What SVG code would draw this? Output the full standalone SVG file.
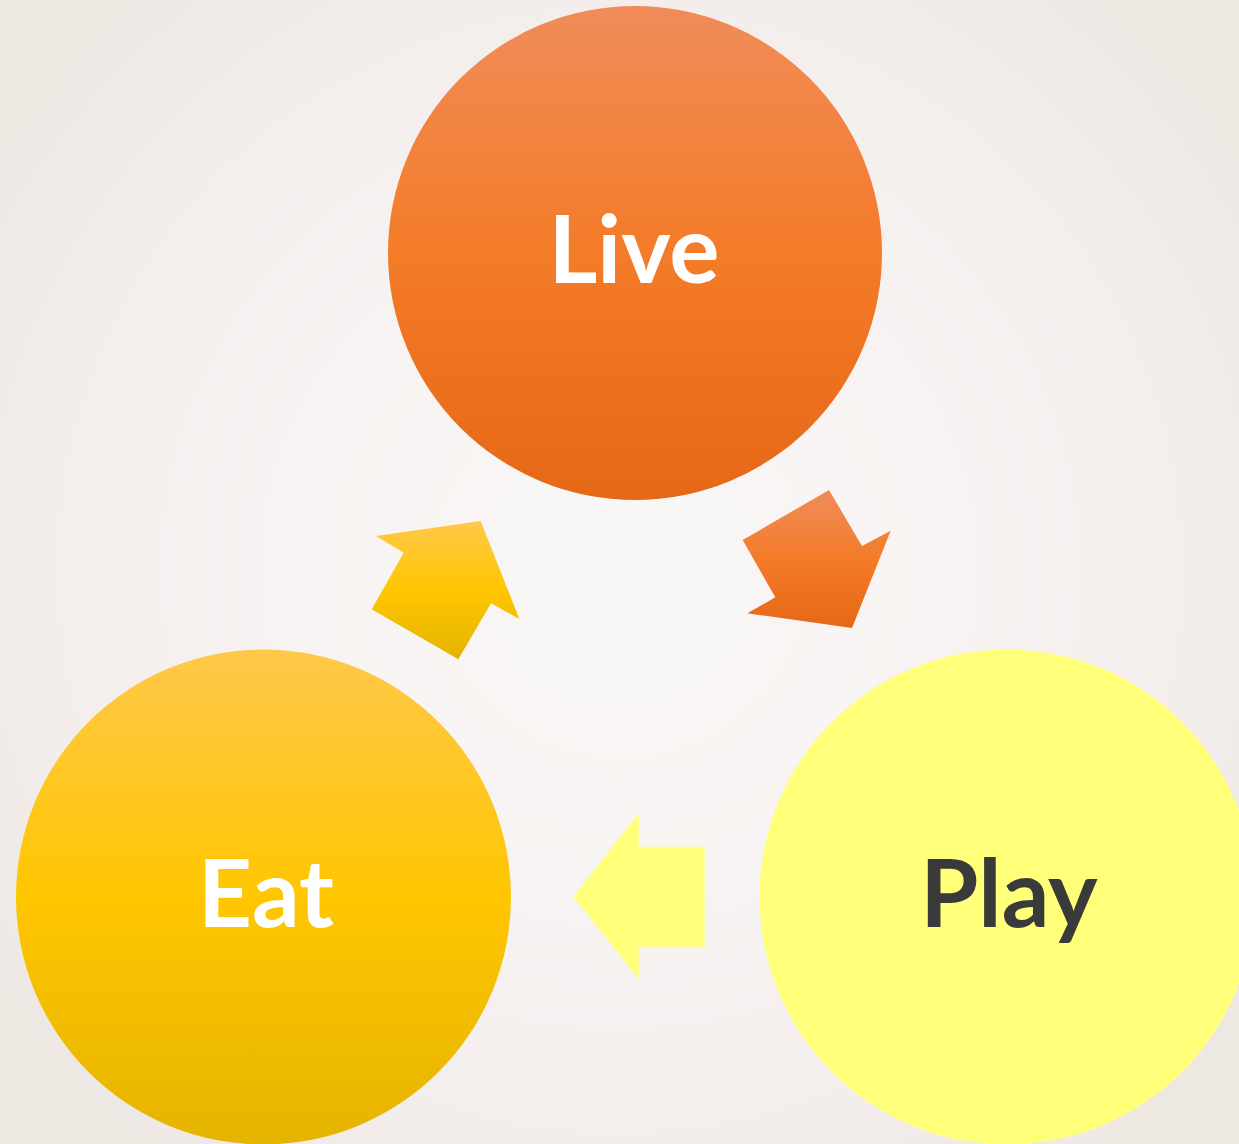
<svg xmlns="http://www.w3.org/2000/svg" width="1239" height="1144" viewBox="0 0 1239 1144">
  <defs>
    <radialGradient id="bg" cx="620" cy="570" r="760" gradientUnits="userSpaceOnUse">
      <stop offset="0" stop-color="#f9f8f6"/>
      <stop offset="0.45" stop-color="#f7f3f2"/>
      <stop offset="0.75" stop-color="#f3eeec"/>
      <stop offset="1" stop-color="#eee8e3"/>
    </radialGradient>
    <linearGradient id="orange" x1="0" y1="0" x2="0" y2="1">
      <stop offset="0" stop-color="#f08c5a"/>
      <stop offset="0.5" stop-color="#f47b28"/>
      <stop offset="1" stop-color="#e56817"/>
    </linearGradient>
    <linearGradient id="gold" x1="0" y1="0" x2="0" y2="1">
      <stop offset="0" stop-color="#ffc84a"/>
      <stop offset="0.5" stop-color="#ffc600"/>
      <stop offset="1" stop-color="#e5b400"/>
    </linearGradient>
    <style>
      .label { font-family: Lato, "Open Sans", "Liberation Sans", sans-serif; font-weight: 700; font-size: 94px; text-anchor: middle; }
      .light { fill: #ffffff; }
      .dark { fill: #3a3a3a; }
    </style>
  </defs>

  <rect width="1239" height="1144" fill="url(#bg)"/>

  <!-- connectors: block arrows between the circles -->
  <g id="connectors">
    <polygon points="829,490 862,546 890.7,530.7 852,628 747.3,613.3 775.3,597.3 742.7,540" fill="url(#orange)"/>
    <polygon points="704.7,846.7 638.7,846.7 638.7,813.3 573.3,896.7 638.7,979 638.7,946.7 704.7,946.7" fill="#ffff7a"/>
    <polygon points="376,536 480.7,521 519.3,619 491,603.3 458.3,659.3 371.7,609.3 403.7,552.7" fill="url(#gold)"/>
  </g>

  <g id="node-live">
    <circle cx="635" cy="253" r="247" fill="url(#orange)"/>
    <text class="label light" x="634" y="283">Live</text>
  </g>

  <g id="node-eat">
    <circle cx="263.5" cy="897" r="247.5" fill="url(#gold)"/>
    <text class="label light" x="266" y="927">Eat</text>
  </g>

  <g id="node-play">
    <circle cx="1007" cy="897" r="247.5" fill="#ffff7a"/>
    <text class="label dark" x="1009" y="927">Play</text>
  </g>
</svg>
